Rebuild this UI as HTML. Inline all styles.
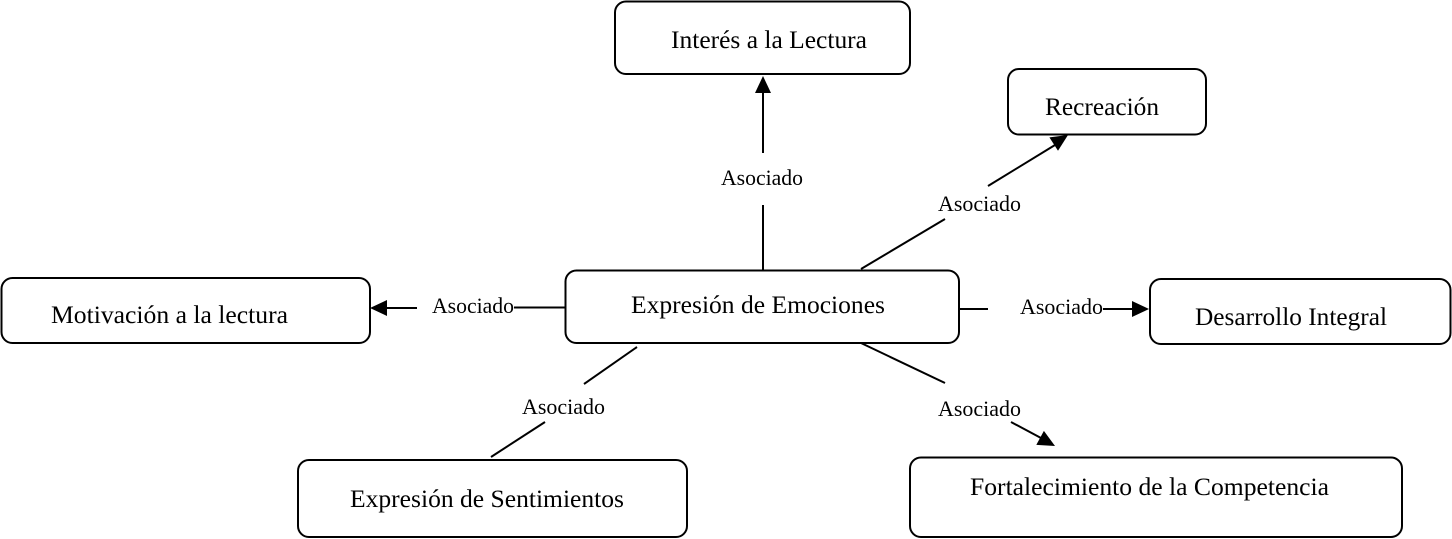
<!DOCTYPE html>
<html><head><meta charset="utf-8"><style>
html,body{margin:0;padding:0;background:#fff;}
svg{display:block;}
text{font-family:"Liberation Serif","Times New Roman",serif;fill:#000;}
</style></head><body>
<svg width="1452" height="539" viewBox="0 0 1452 539" xmlns="http://www.w3.org/2000/svg">
<g fill="#fff" stroke="#000" stroke-width="2">
<rect x="615" y="1.5" width="295" height="72.5" rx="11"/>
<rect x="1008" y="69" width="198" height="65.5" rx="11"/>
<rect x="565.5" y="270.5" width="393.5" height="72.5" rx="11"/>
<rect x="1.5" y="278" width="368.5" height="65" rx="11"/>
<rect x="1150" y="279" width="300.5" height="65" rx="11"/>
<rect x="298" y="460" width="389" height="77" rx="11"/>
<rect x="910" y="457.5" width="492" height="79.5" rx="11"/>
</g>
<g stroke="#000" stroke-width="2" fill="none">
<line x1="763" y1="270" x2="763" y2="205"/>
<line x1="763" y1="153" x2="763" y2="92"/>
<line x1="861" y1="269" x2="945" y2="219"/>
<line x1="988" y1="186" x2="1055" y2="145"/>
<line x1="959" y1="309" x2="988" y2="309"/>
<line x1="1103" y1="309" x2="1133" y2="309"/>
<line x1="387" y1="308" x2="417" y2="308"/>
<line x1="514" y1="307.5" x2="566" y2="307.5"/>
<line x1="637" y1="347" x2="584" y2="384"/>
<line x1="545" y1="422" x2="491" y2="457"/>
<line x1="861" y1="343" x2="945" y2="383"/>
<line x1="1011" y1="422" x2="1041" y2="438"/>
</g>
<g fill="#000">
<polygon points="763,76 755,93 771,93"/>
<polygon points="1068,135 1049.4,137.4 1058,150.8"/>
<polygon points="1149,309 1132,301 1132,317"/>
<polygon points="370,308 387,300 387,316"/>
<polygon points="1055,446 1043.9,430.9 1036.3,444.9"/>
</g>
<g font-size="25">
<text x="671" y="48" textLength="196" lengthAdjust="spacingAndGlyphs">Interés  a la Lectura</text>
<text x="1045" y="115" textLength="114" lengthAdjust="spacingAndGlyphs">Recreación</text>
<text x="631" y="313" textLength="254" lengthAdjust="spacingAndGlyphs">Expresión de Emociones</text>
<text x="51" y="323" textLength="237" lengthAdjust="spacingAndGlyphs">Motivación  a la lectura</text>
<text x="1195" y="325" textLength="192" lengthAdjust="spacingAndGlyphs">Desarrollo Integral</text>
<text x="350" y="507" textLength="274" lengthAdjust="spacingAndGlyphs">Expresión de Sentimientos</text>
<text x="970" y="495" textLength="359" lengthAdjust="spacingAndGlyphs">Fortalecimiento  de la Competencia</text>
</g>
<g font-size="22">
<text x="721" y="185" textLength="82" lengthAdjust="spacingAndGlyphs">Asociado</text>
<text x="938" y="211" textLength="83" lengthAdjust="spacingAndGlyphs">Asociado</text>
<text x="1020" y="314" textLength="83" lengthAdjust="spacingAndGlyphs">Asociado</text>
<text x="432" y="313" textLength="82" lengthAdjust="spacingAndGlyphs">Asociado</text>
<text x="522" y="414" textLength="83" lengthAdjust="spacingAndGlyphs">Asociado</text>
<text x="938" y="416" textLength="83" lengthAdjust="spacingAndGlyphs">Asociado</text>
</g>
</svg>
</body></html>
